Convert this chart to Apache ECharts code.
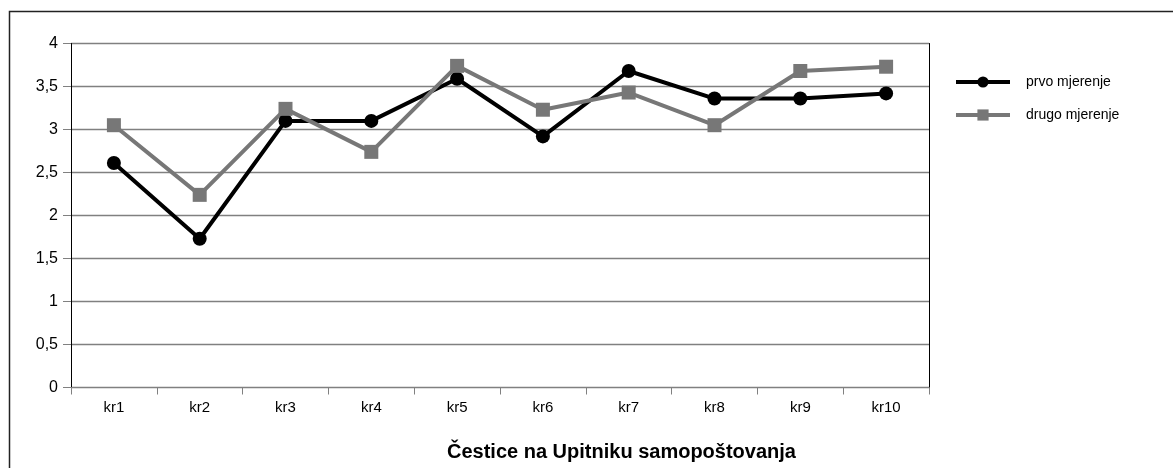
<!DOCTYPE html>
<html>
<head>
<meta charset="utf-8">
<script src="https://cdn.jsdelivr.net/npm/echarts@6/dist/echarts.min.js"></script>
<style>
  html, body { margin: 0; padding: 0; background: #fff; }
  #main { width: 1173px; height: 468px; }
</style>
</head>
<body>
<div id="main"></div>
<script>
// podaci s grafa
const categories = ['kr1', 'kr2', 'kr3', 'kr4', 'kr5', 'kr6', 'kr7', 'kr8', 'kr9', 'kr10'];
const prvoMjerenje = [2.61, 1.73, 3.10, 3.10, 3.59, 2.92, 3.68, 3.36, 3.36, 3.42];
const drugoMjerenje = [3.05, 2.24, 3.24, 2.74, 3.74, 3.23, 3.43, 3.05, 3.68, 3.73];
const seriesNames = ['prvo mjerenje', 'drugo mjerenje'];
const axisTitle = 'Čestice na Upitniku samopoštovanja';

const font = '"Liberation Sans", Arial, sans-serif';

let myChart = echarts.init(document.getElementById('main'));
myChart.setOption({
    animation: false,
    backgroundColor: '#fff',
    graphic: [
        {
            type: 'rect',
            shape: { x: 9.5, y: 11.5, width: 1200, height: 500 },
            style: { fill: 'none', stroke: '#222', lineWidth: 1.5 },
            silent: true
        },
        {
            // naslov x osi
            type: 'text',
            left: 447,
            top: 442,
            style: {
                text: axisTitle,
                font: 'bold 20px "Liberation Sans", Arial, sans-serif',
                fill: '#000'
            },
            silent: true
        }
    ],
    legend: {
        orient: 'vertical',
        left: 954,
        top: 75,
        padding: 0,
        itemWidth: 54,
        itemHeight: 14,
        itemGap: 19,
        lineStyle: { width: 4 },
        textStyle: { fontFamily: font, fontSize: 14, color: '#000', padding: [0, 0, 0, 11] },
        data: seriesNames
    },
    grid: {
        left: 71,
        right: 244,
        top: 43.5,
        bottom: 80.5
    },
    xAxis: {
        type: 'category',
        data: categories,
        boundaryGap: true,
        axisLine: { lineStyle: { color: '#808080', width: 1 } },
        axisTick: { show: true, length: 7, alignWithLabel: false, lineStyle: { color: '#808080' } },
        axisLabel: { fontFamily: font, fontSize: 15, color: '#000', margin: 13 }
    },
    yAxis: [
        {
            type: 'value',
            min: 0,
            max: 4,
            interval: 0.5,
            axisLine: { show: true, lineStyle: { color: '#000', width: 1 } },
            axisTick: { show: true, length: 8, lineStyle: { color: '#808080' } },
            splitLine: { show: true, lineStyle: { color: '#808080', width: 1.3 } },
            axisLabel: {
                fontFamily: font,
                fontSize: 16,
                color: '#000',
                margin: 13,
                formatter: v => String(v).replace('.', ',')
            }
        },
        {
            type: 'value',
            min: 0,
            max: 4,
            interval: 0.5,
            position: 'right',
            axisLine: { show: true, lineStyle: { color: '#000', width: 1 } },
            axisTick: { show: false },
            splitLine: { show: false },
            axisLabel: { show: false }
        }
    ],
    series: [
        {
            name: seriesNames[0],
            type: 'line',
            data: prvoMjerenje,
            symbol: 'circle',
            symbolSize: 14,
            color: '#000',
            lineStyle: { color: '#000', width: 4 },
            itemStyle: { color: '#000' }
        },
        {
            name: seriesNames[1],
            type: 'line',
            data: drugoMjerenje,
            symbol: 'rect',
            symbolSize: 14,
            color: '#777',
            lineStyle: { color: '#777', width: 4 },
            itemStyle: { color: '#777' }
        }
    ]
});
</script>
</body>
</html>
